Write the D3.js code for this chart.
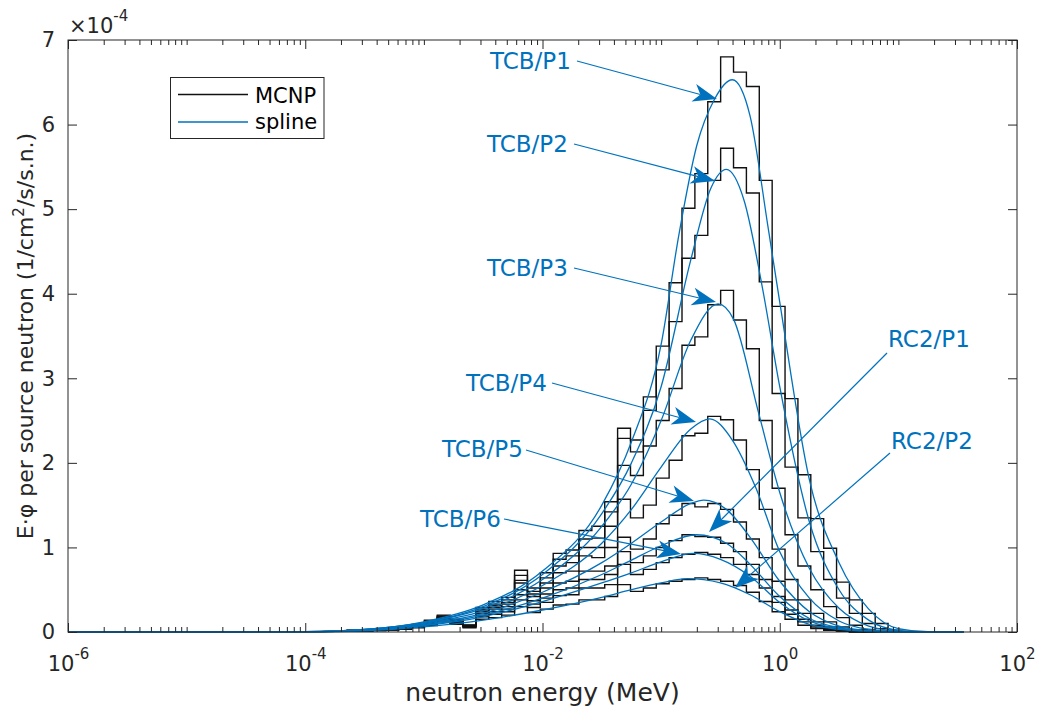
<!DOCTYPE html>
<html>
<head>
<meta charset="utf-8">
<style>
body { margin: 0; background: #fff; }
text { font-family: "DejaVu Sans", sans-serif; }
</style>
</head>
<body>
<svg width="1041" height="710"></svg>
<script src="https://cdn.jsdelivr.net/npm/d3@7/dist/d3.min.js"></script>
<script>

// MCNP tally bins: equal lethargy (0.25) below 13.5 MeV, 44 bins
var eTop = 13.5, du = 0.25, nBins = 44;
var edges = d3.range(nBins + 1).map(function(i){ return eTop * Math.exp(-du * (nBins - i)); });

var names = ["TCB/P1", "TCB/P2", "TCB/P3", "TCB/P4", "TCB/P5", "RC2/P1", "TCB/P6", "RC2/P2"];

// MCNP histograms, E*phi per source neutron, units of 1e-4, lowest bin first
var histP1 = [0.02,0.025,0.035,0.05,0.06,0.09,0.14,0.2,0.15,0.08,0.29,0.36,0.41,0.73,0.52,0.70,0.93,0.97,1.2,1.25,1.54,2.41,2.27,2.78,3.38,4.13,5.01,5.42,6.27,6.80,6.62,6.45,5.34,3.85,2.76,1.86,1.34,0.99,0.59,0.38,0.22,0.10,0.02,0];
var histP2 = [0.02,0.025,0.03,0.045,0.06,0.085,0.13,0.19,0.14,0.08,0.27,0.33,0.38,0.67,0.48,0.64,0.86,0.9,1.1,1.11,1.42,2.29,2.13,2.62,3.1,3.67,4.42,4.69,5.34,5.72,5.49,5.19,4.14,2.82,1.95,1.35,0.95,0.62,0.4,0.22,0.1,0.04,0.01,0];
var histP3 = [0.015,0.02,0.03,0.04,0.055,0.08,0.12,0.18,0.14,0.08,0.26,0.31,0.35,0.61,0.45,0.58,0.78,0.82,1.0,1.0,1.25,1.97,1.85,2.2,2.5,2.88,3.39,3.49,3.87,4.04,3.69,3.35,2.5,1.7,1.15,0.78,0.5,0.3,0.17,0.08,0.03,0.01,0,0];
var histP4 = [0.015,0.02,0.025,0.035,0.05,0.075,0.11,0.17,0.13,0.075,0.24,0.29,0.33,0.58,0.42,0.52,0.7,0.72,0.9,0.88,1.0,1.57,1.35,1.5,1.82,2.03,2.32,2.35,2.55,2.51,2.27,1.92,1.45,0.98,0.62,0.38,0.22,0.12,0.06,0.025,0.01,0,0,0];
var histP5 = [0.013,0.018,0.022,0.03,0.045,0.07,0.1,0.16,0.12,0.07,0.22,0.27,0.3,0.5,0.37,0.45,0.58,0.6,0.72,0.72,0.78,1.12,0.98,1.1,1.28,1.38,1.52,1.48,1.52,1.45,1.3,1.1,0.88,0.6,0.38,0.22,0.12,0.06,0.03,0.01,0,0,0,0];
var histR1 = [0.012,0.016,0.02,0.028,0.04,0.065,0.09,0.15,0.11,0.065,0.2,0.24,0.27,0.44,0.33,0.4,0.5,0.52,0.62,0.62,0.68,0.95,0.82,0.9,1.0,1.08,1.15,1.13,1.12,1.05,0.95,0.8,0.62,0.42,0.26,0.15,0.08,0.04,0.015,0.005,0,0,0,0];
var histP6 = [0.011,0.014,0.018,0.026,0.038,0.06,0.085,0.14,0.1,0.06,0.18,0.21,0.24,0.38,0.29,0.35,0.43,0.44,0.52,0.52,0.56,0.8,0.68,0.74,0.82,0.88,0.92,0.94,0.92,0.88,0.8,0.68,0.52,0.35,0.21,0.12,0.06,0.03,0.01,0,0,0,0,0];
var histR2 = [0.01,0.012,0.016,0.022,0.032,0.05,0.075,0.12,0.09,0.05,0.15,0.17,0.2,0.3,0.23,0.27,0.32,0.33,0.38,0.38,0.42,0.56,0.48,0.52,0.57,0.6,0.62,0.64,0.62,0.6,0.55,0.47,0.36,0.24,0.15,0.08,0.04,0.02,0.008,0,0,0,0,0];
var hists = [histP1, histP2, histP3, histP4, histP5, histR1, histP6, histR2];

// spline knots [log10(E/MeV), value]
var splP1 = [[-6,0],[-4,0.005],[-3.5,0.03],[-3,0.12],[-2.5,0.32],[-2,0.72],[-1.5,1.5],[-1.25,2.25],[-1,3.4],[-0.85,4.7],[-0.7,5.75],[-0.55,6.3],[-0.4,6.53],[-0.25,6.1],[-0.1,4.8],[0,3.9],[0.25,1.8],[0.5,0.82],[0.75,0.27],[1,0.04],[1.25,0.003],[1.55,0]];
var splP2 = [[-6,0],[-4,0.005],[-3.5,0.03],[-3,0.11],[-2.5,0.3],[-2,0.68],[-1.5,1.4],[-1.25,2.0],[-1,2.9],[-0.75,4.4],[-0.58,5.25],[-0.45,5.47],[-0.3,5.1],[-0.15,4.1],[0,2.9],[0.25,1.3],[0.5,0.5],[0.75,0.14],[1,0.02],[1.25,0.001],[1.55,0]];
var splP3 = [[-6,0],[-4,0.005],[-3.5,0.03],[-3,0.11],[-2.5,0.28],[-2,0.62],[-1.5,1.25],[-1.25,1.75],[-1,2.5],[-0.75,3.45],[-0.52,3.88],[-0.39,3.7],[-0.18,2.6],[0,1.65],[0.25,0.75],[0.5,0.28],[0.75,0.07],[1,0.01],[1.25,0],[1.55,0]];
var splP4 = [[-6,0],[-4,0.004],[-3.5,0.025],[-3,0.1],[-2.5,0.25],[-2,0.55],[-1.5,1.05],[-1.25,1.45],[-1,1.95],[-0.75,2.4],[-0.59,2.52],[-0.4,2.27],[-0.2,1.7],[0,0.95],[0.25,0.4],[0.5,0.13],[0.75,0.03],[1,0.004],[1.25,0],[1.55,0]];
var splP5 = [[-6,0],[-4,0.004],[-3.5,0.02],[-3,0.09],[-2.5,0.22],[-2,0.47],[-1.5,0.82],[-1.25,1.05],[-1,1.3],[-0.75,1.52],[-0.64,1.56],[-0.45,1.45],[-0.25,1.12],[0,0.6],[0.25,0.24],[0.5,0.07],[0.75,0.015],[1,0],[1.55,0]];
var splR1 = [[-6,0],[-4,0.004],[-3.5,0.02],[-3,0.08],[-2.5,0.2],[-2,0.4],[-1.5,0.68],[-1.25,0.85],[-1,1.02],[-0.7,1.15],[-0.45,1.05],[-0.25,0.8],[0,0.42],[0.25,0.16],[0.5,0.05],[0.75,0.01],[1,0],[1.55,0]];
var splP6 = [[-6,0],[-4,0.004],[-3.5,0.02],[-3,0.075],[-2.5,0.18],[-2,0.36],[-1.5,0.58],[-1.25,0.7],[-1,0.83],[-0.73,0.93],[-0.5,0.86],[-0.25,0.66],[0,0.35],[0.25,0.13],[0.5,0.04],[0.75,0.008],[1,0],[1.55,0]];
var splR2 = [[-6,0],[-4,0.003],[-3.5,0.015],[-3,0.06],[-2.5,0.14],[-2,0.26],[-1.5,0.41],[-1.25,0.5],[-1,0.58],[-0.78,0.63],[-0.5,0.58],[-0.25,0.44],[0,0.24],[0.25,0.09],[0.5,0.03],[0.75,0.005],[1,0],[1.55,0]];
var splines = [splP1, splP2, splP3, splP4, splP5, splR1, splP6, splR2];

var annLabels = ["TCB/P1", "TCB/P2", "TCB/P3", "TCB/P4", "TCB/P5", "TCB/P6", "RC2/P1", "RC2/P2"];

var yTicks = [0, 1, 2, 3, 4, 5, 6, 7];
var xTicks = [1e-6, 1e-4, 1e-2, 1e0, 1e2];

var svg = d3.select("svg");
var ml = 68, mr = 1017, mt = 40, mb = 632;
var ink = "#262626", blue = "#0072BD";

var x = d3.scaleLog().domain([1e-6, 1e2]).range([ml, mr]);
var y = d3.scaleLinear().domain([0, 7]).range([mb, mt]);

var minor = [];
for (var n = -6; n < 2; n++) {
  for (var k = 1; k < 10; k++) {
    var v = k * Math.pow(10, n);
    if (!(k == 1 && n % 2 == 0)) minor.push(v);
  }
}

// histograms
var stepLine = d3.line()
  .x(function(d){ return x(d[0]); })
  .y(function(d){ return y(d[1]); })
  .curve(d3.curveStepAfter);

hists.forEach(function(h){
  var pts = [[edges[0], 0]];
  h.forEach(function(v, i){ pts.push([edges[i], v]); });
  pts.push([edges[nBins], h[nBins - 1]]);
  pts.push([edges[nBins], 0]);
  svg.append("path")
    .attr("d", stepLine(pts))
    .attr("fill", "none")
    .attr("stroke", "#111")
    .attr("stroke-width", 1.4);
});

// splines
var splLine = d3.line()
  .x(function(d){ return x(Math.pow(10, d[0])); })
  .y(function(d){ return y(d[1]); })
  .curve(d3.curveMonotoneX);

splines.forEach(function(s){
  svg.append("path")
    .attr("d", splLine(s))
    .attr("fill", "none")
    .attr("stroke", blue)
    .attr("stroke-width", 1.3);
});

// axes, ticks inside like matlab
function styleAxis(g) {
  g.select(".domain").remove();
  g.selectAll(".tick line").attr("stroke", ink);
  g.attr("font-family", "DejaVu Sans, sans-serif").attr("font-size", 21).attr("fill", ink);
  g.selectAll(".tick text").attr("fill", ink);
}

var gxb = svg.append("g").attr("transform", "translate(0," + mb + ")")
  .call(d3.axisBottom(x).tickValues(xTicks).tickSize(-9).tickPadding(24));
styleAxis(gxb);
gxb.selectAll(".tick text").each(function(d){
  var t = d3.select(this);
  t.text("10");
  t.append("tspan").attr("dy", -12).attr("font-size", 15).text(String(Math.round(Math.log10(d))));
});
svg.append("g").attr("transform", "translate(0," + mb + ")")
  .call(d3.axisBottom(x).tickValues(minor).tickSize(-5).tickFormat(""))
  .call(styleAxis);
svg.append("g").attr("transform", "translate(0," + mt + ")")
  .call(d3.axisTop(x).tickValues(xTicks).tickSize(-9).tickFormat(""))
  .call(styleAxis);
svg.append("g").attr("transform", "translate(0," + mt + ")")
  .call(d3.axisTop(x).tickValues(minor).tickSize(-5).tickFormat(""))
  .call(styleAxis);

var gyl = svg.append("g").attr("transform", "translate(" + ml + ",0)")
  .call(d3.axisLeft(y).tickValues(yTicks).tickSize(-9).tickPadding(13).tickFormat(d3.format("d")));
styleAxis(gyl);
svg.append("g").attr("transform", "translate(" + mr + ",0)")
  .call(d3.axisRight(y).tickValues(yTicks).tickSize(-9).tickFormat(""))
  .call(styleAxis);

svg.append("rect")
  .attr("x", ml).attr("y", mt)
  .attr("width", mr - ml).attr("height", mb - mt)
  .attr("fill", "none").attr("stroke", ink).attr("stroke-width", 1);

// exponent
var ex = svg.append("text").attr("x", 69).attr("y", 33)
  .attr("font-size", 21).attr("fill", ink).text("\u00d710");
ex.append("tspan").attr("dy", -12).attr("font-size", 15).text("-4");

// axis labels
svg.append("text")
  .attr("x", (ml + mr) / 2).attr("y", 701)
  .attr("text-anchor", "middle").attr("font-size", 25).attr("fill", ink)
  .text("neutron energy (MeV)");

var yl = svg.append("text")
  .attr("transform", "translate(33," + ((mt + mb) / 2) + ") rotate(-90)")
  .attr("text-anchor", "middle").attr("font-size", 22).attr("fill", ink);
yl.append("tspan").text("E\u00b7\u03c6 per source neutron (1/cm");
yl.append("tspan").attr("dy", -9).attr("font-size", 15).text("2");
yl.append("tspan").attr("dy", 9).text("/s/s.n.)");

// legend
var lg = svg.append("g");
lg.append("rect").attr("x", 170.5).attr("y", 77.5).attr("width", 153.5).attr("height", 61)
  .attr("fill", "#fff").attr("stroke", ink).attr("stroke-width", 1);
lg.append("line").attr("x1", 178).attr("x2", 248).attr("y1", 94.5).attr("y2", 94.5)
  .attr("stroke", "#111").attr("stroke-width", 1.3);
lg.append("line").attr("x1", 178).attr("x2", 248).attr("y1", 122).attr("y2", 122)
  .attr("stroke", blue).attr("stroke-width", 1.3);
lg.append("text").attr("x", 255).attr("y", 103).attr("font-size", 21).attr("fill", "#000").text("MCNP");
lg.append("text").attr("x", 255).attr("y", 128.5).attr("font-size", 21).attr("fill", "#000").text("spline");

// annotations: text position, line start, arrow tip (px)
var annText = [[490, 69], [487, 152], [487, 276], [466, 391], [442, 457], [420, 527], [888, 347], [891, 449]];
var annFrom = [[577, 61], [574, 144], [574, 268], [552, 383], [526, 450], [504, 519], [887, 353], [890, 453]];
var annTip = [[717, 99], [715, 181], [716, 302], [696, 422], [694, 501], [681, 554], [709, 532], [735, 588]];

var ag = svg.append("g");
annLabels.forEach(function(lab, i){
  ag.append("text").attr("x", annText[i][0]).attr("y", annText[i][1])
    .attr("font-size", 23).attr("fill", blue).text(lab);
  var x1 = annFrom[i][0], y1 = annFrom[i][1], x2 = annTip[i][0], y2 = annTip[i][1];
  var ang = Math.atan2(y2 - y1, x2 - x1);
  var H = 24, W = 9;
  var c = Math.cos(ang), s = Math.sin(ang);
  function pt(a, b){ return [x2 + a * c - b * s, y2 + a * s + b * c]; }
  var notch = pt(-0.72 * H, 0);
  ag.append("line").attr("x1", x1).attr("y1", y1).attr("x2", notch[0]).attr("y2", notch[1])
    .attr("stroke", blue).attr("stroke-width", 1.2);
  ag.append("path")
    .attr("d", "M" + [pt(0, 0), pt(-H, W), notch, pt(-H, -W)].map(function(p){ return p.join(","); }).join("L") + "Z")
    .attr("fill", blue);
});

</script>
</body>
</html>
